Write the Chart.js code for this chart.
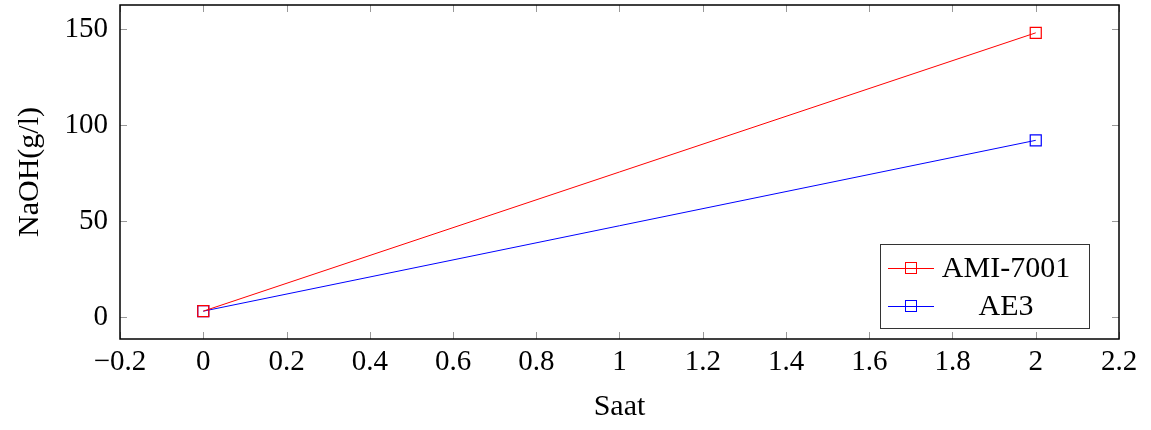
<!DOCTYPE html>
<html>
<head>
<meta charset="utf-8">
<script src="https://cdn.jsdelivr.net/npm/chart.js@4"></script>
<style>
  body { margin: 0; background: #fff; }
  #wrap { width: 1151px; height: 430px; position: relative; }
</style>
</head>
<body>
<div id="wrap"><canvas id="c"></canvas></div>
<script>
// 데이터
const hours = [0, 2];
const ami7001 = [3, 148];
const ae3 = [3, 92];
const seriesNames = ['AMI-7001', 'AE3'];
const xTicks = [-0.2, 0, 0.2, 0.4, 0.6, 0.8, 1, 1.2, 1.4, 1.6, 1.8, 2, 2.2];
const yTicks = [0, 50, 100, 150];

const serif = "'Liberation Serif', 'DejaVu Serif', serif";

function pts(ys) {
    return hours.map((x, i) => ({ x: x, y: ys[i] }));
}

// 프레임, 안쪽 눈금, 범례
const framePlugin = {
    id: 'frame',
    afterDatasetsDraw(chart) {
        const { ctx, chartArea: a, scales } = chart;
        ctx.save();
        ctx.strokeStyle = '#999';
        ctx.lineWidth = 1;
        ctx.beginPath();
        scales.x.ticks.forEach(t => {
            const px = Math.round(scales.x.getPixelForValue(t.value)) + 0.5;
            ctx.moveTo(px, a.bottom); ctx.lineTo(px, a.bottom - 7);
            ctx.moveTo(px, a.top); ctx.lineTo(px, a.top + 7);
        });
        scales.y.ticks.forEach(t => {
            const py = Math.round(scales.y.getPixelForValue(t.value)) + 0.5;
            ctx.moveTo(a.left, py); ctx.lineTo(a.left + 7, py);
            ctx.moveTo(a.right, py); ctx.lineTo(a.right - 7, py);
        });
        ctx.stroke();

        ctx.strokeStyle = '#000';
        ctx.lineWidth = 1.5;
        ctx.strokeRect(a.left, a.top, a.right - a.left, a.bottom - a.top);

        // 범례
        const bx = 880, by = 244, bw = 209, bh = 84;
        ctx.fillStyle = '#fff';
        ctx.fillRect(bx, by, bw, bh);
        ctx.strokeStyle = '#333';
        ctx.lineWidth = 1;
        ctx.strokeRect(bx + 0.5, by + 0.5, bw, bh);
        chart.data.datasets.forEach((ds, i) => {
            const cy = by + 24 + i * 38;
            ctx.strokeStyle = ds.borderColor;
            ctx.lineWidth = 1;
            ctx.beginPath();
            ctx.moveTo(888, cy + 0.5); ctx.lineTo(934, cy + 0.5);
            ctx.stroke();
            ctx.strokeRect(905.5, cy - 5.5, 11, 11);
            ctx.fillStyle = '#000';
            ctx.font = '30px ' + serif;
            ctx.textAlign = 'center';
            ctx.textBaseline = 'middle';
            ctx.fillText(ds.label, 1006, cy + 1);
        });
        ctx.restore();
    }
};

new Chart(document.getElementById('c'), {
    type: 'scatter',
    data: {
        datasets: [
            {
                label: seriesNames[0],
                data: pts(ami7001),
                showLine: true,
                borderColor: '#ff0000',
                borderWidth: 1,
                backgroundColor: 'transparent',
                pointStyle: 'rect',
                pointRadius: 7.8,
                pointBorderWidth: 1.2,
                pointBorderColor: '#ff0000',
                pointBackgroundColor: 'transparent'
            },
            {
                label: seriesNames[1],
                data: pts(ae3),
                showLine: true,
                borderColor: '#0000ff',
                borderWidth: 1,
                backgroundColor: 'transparent',
                pointStyle: 'rect',
                pointRadius: 7.8,
                pointBorderWidth: 1.2,
                pointBorderColor: '#0000ff',
                pointBackgroundColor: 'transparent'
            }
        ]
    },
    options: {
        responsive: true,
        maintainAspectRatio: false,
        animation: false,
        layout: { autoPadding: false, padding: { left: 0, right: 32, top: 5, bottom: 0 } },
        plugins: {
            legend: { display: false },
            tooltip: { enabled: false }
        },
        scales: {
            x: {
                type: 'linear',
                min: -0.2,
                max: 2.2,
                afterBuildTicks: s => { s.ticks = xTicks.map(v => ({ value: v })); },
                afterFit: s => { s.height = 91; },
                grid: { display: false, drawTicks: false },
                border: { display: false },
                ticks: {
                    color: '#000',
                    padding: 6,
                    maxRotation: 0,
                    autoSkip: false,
                    font: { family: serif, size: 29 },
                    callback: v => (v < 0 ? '\u2212' : '') + Math.abs(Math.round(v * 10) / 10)
                },
                title: {
                    display: true,
                    text: 'Saat',
                    color: '#000',
                    font: { family: serif, size: 30 },
                    padding: { top: 0, bottom: 5 }
                }
            },
            y: {
                min: -11.5,
                max: 162.5,
                afterBuildTicks: s => { s.ticks = yTicks.map(v => ({ value: v })); },
                afterFit: s => { s.width = 120; s.paddingTop = 0; s.paddingBottom = 0; },
                grid: { display: false, drawTicks: false },
                border: { display: false },
                ticks: {
                    color: '#000',
                    padding: 12,
                    font: { family: serif, size: 29, lineHeight: 0.2 },
                    callback: v => v
                },
                title: {
                    display: true,
                    text: 'NaOH(g/l)',
                    color: '#000',
                    font: { family: serif, size: 30 },
                    padding: { top: 12, bottom: 0 }
                }
            }
        }
    },
    plugins: [framePlugin]
});
</script>
</body>
</html>
